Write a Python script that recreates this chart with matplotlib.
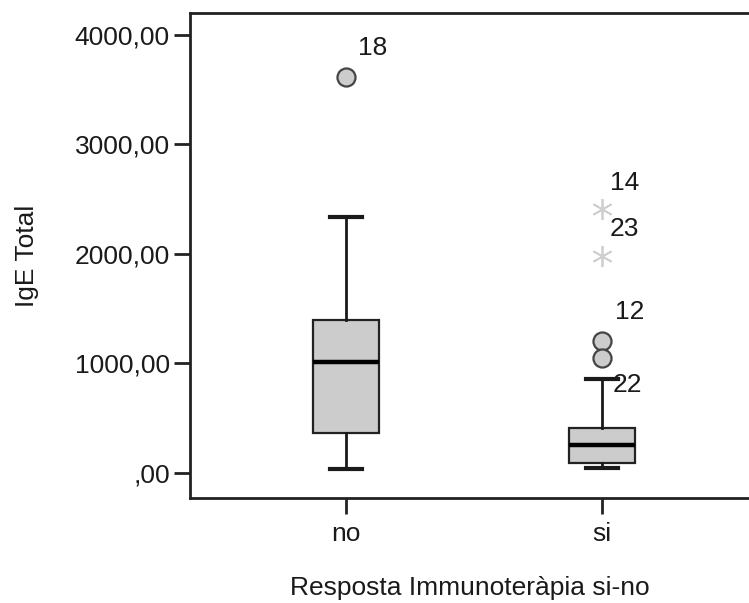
import matplotlib
matplotlib.use("Agg")
import matplotlib.pyplot as plt

plt.rcParams["font.family"] = ["Liberation Sans", "DejaVu Sans"]

# Groups of the response variable
categories = ["no", "si"]

# Five-number summaries per group (IgE Total)
whisker_low = [31, 40]
quartile1 = [360, 91]
medians = [1009, 253]
quartile3 = [1396, 406]
whisker_high = [2335, 854]

# Outliers (circles) and extreme values (stars): (group index, value, case id)
outliers = [(0, 3617, "18"), (1, 1207, "12"), (1, 1046, "")]
extremes = [(1, 2410, "14"), (1, 1981, "23")]
# Case label drawn beside the upper whisker of the "si" group
whisker_labels = [(1, 854, "22")]

yticks = [0, 1000, 2000, 3000, 4000]
ytick_labels = [",00", "1000,00", "2000,00", "3000,00", "4000,00"]

fig = plt.figure(figsize=(7.49, 6.03), dpi=100)
ax = fig.add_axes([190 / 749, 105 / 603, 568 / 749, 485 / 603])

positions = [i + 1 for i in range(len(categories))]
stats = []
for i, cat in enumerate(categories):
    stats.append(dict(label=cat, whislo=whisker_low[i], q1=quartile1[i],
                      med=medians[i], q3=quartile3[i], whishi=whisker_high[i],
                      fliers=[]))

ink = "#1a1a1a"
ax.bxp(stats, positions=positions, widths=0.255, capwidths=0.125,
       showfliers=False, patch_artist=True,
       boxprops=dict(facecolor="#cccccc", edgecolor="#222222", linewidth=1.6),
       medianprops=dict(color="black", linewidth=3.2),
       whiskerprops=dict(color=ink, linewidth=2.0),
       capprops=dict(color=ink, linewidth=3.0))

for g, v, _ in outliers:
    ax.plot(positions[g], v, marker="o", markersize=13, markerfacecolor="#cccccc",
            markeredgecolor="#444444", markeredgewidth=1.6, linestyle="none", zorder=4)
for g, v, _ in extremes:
    ax.plot(positions[g], v, marker=(6, 2, 0), markersize=15, color="#cfcfcf",
            markeredgewidth=1.3, linestyle="none", zorder=4)

label_offsets = {"18": (12, 29), "12": (13, 29), "14": (8, 26), "23": (8, 27), "22": (11, -6)}
for g, v, txt in outliers + extremes + whisker_labels:
    if not txt:
        continue
    dx, dy = label_offsets[txt]
    ax.annotate(txt, (positions[g], v), xytext=(dx, dy), textcoords="offset pixels",
                ha="left", va="center", fontsize=19, color=ink, zorder=5)

ax.set_xlim(0.39, 2.61)
ax.set_ylim(-231, 4201)
ax.set_xticks(positions)
ax.set_xticklabels(categories)
ax.set_yticks(yticks)
ax.set_yticklabels(ytick_labels)

for side in ["left", "bottom", "top", "right"]:
    ax.spines[side].set_linewidth(2.0)
    ax.spines[side].set_color("#222222")

ax.tick_params(axis="both", direction="out", length=11.5, width=2.0, color="#222222",
               labelsize=19, labelcolor=ink)
ax.tick_params(axis="y", pad=3)
ax.tick_params(axis="x", pad=6)

ax.set_xlabel("Resposta Immunoteràpia si-no", fontsize=19, color=ink, va="center")
ax.xaxis.set_label_coords(0.493, -0.1856)
ax.set_ylabel("IgE Total", fontsize=19, color=ink, va="center")
ax.yaxis.set_label_coords(-0.287, 0.5)

fig.savefig("out.png", dpi=100)
